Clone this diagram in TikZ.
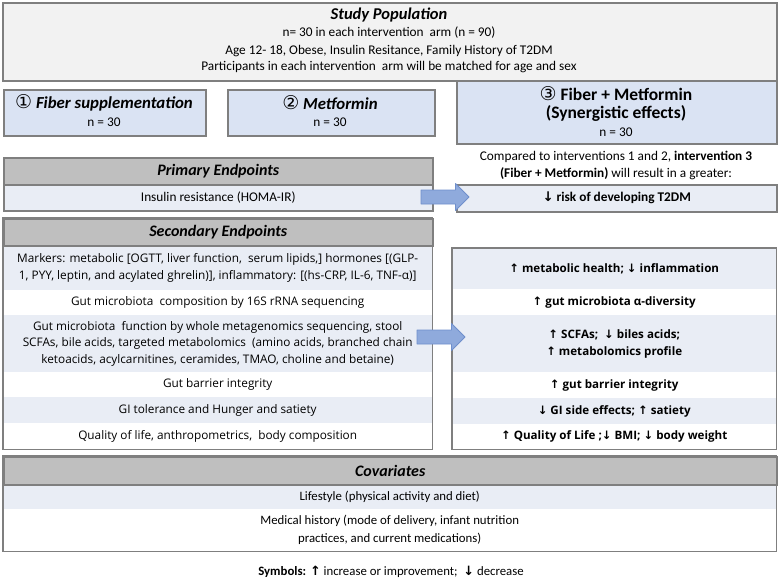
\documentclass[tikz,border=0pt]{standalone}
\usepackage{fontspec}
\setmainfont{Carlito}
\newfontfamily\segoe{Open Sans}
\newfontfamily\symfont{DejaVu Sans}
\definecolor{edgegray}{HTML}{7F7F7F}
\definecolor{popgray}{HTML}{F2F2F2}
\definecolor{headgray}{HTML}{BFBFBF}
\definecolor{armblue}{HTML}{DAE3F3}
\definecolor{rowblue}{HTML}{E9EDF5}
\definecolor{arrowblue}{HTML}{8FAADC}
\definecolor{arrowedge}{HTML}{6F8FCB}
\newcommand{\upar}{{\symfont ↑}}
\newcommand{\dnar}{{\symfont ↓}}
\newcommand{\circnum}[1]{{\symfont\mdseries\upshape\fontsize{19}{19}\selectfont #1}}

\begin{document}
\begin{tikzpicture}[x=1pt,y=-1pt,
    box/.style={draw=edgegray,line width=1.5pt,inner sep=0pt,anchor=north west,align=center},
    band/.style={inner sep=0pt,anchor=north west,align=center},
    frame/.style={draw=edgegray,line width=1.5pt},
    txt/.style={font=\fontsize{13.3}{18}\selectfont},
    covtxt/.style={font=\fontsize{12.8}{18}\selectfont},
    ttl/.style={font=\fontsize{16}{18}\selectfont\bfseries\itshape},
    rowtxt/.style={font=\segoe\fontsize{11.8}{16.8}\selectfont},
    outtxt/.style={font=\segoe\fontsize{11.6}{17}\selectfont\bfseries},
    blockarrow/.style={draw=arrowedge,fill=arrowblue,line width=0.8pt,line join=round}]
\useasboundingbox (0,0) rectangle (778,579);

% study population
\node[box,fill=popgray,minimum width=774pt,minimum height=78pt] (pop) at (2,2) {};
\node[ttl,font=\fontsize{16.5}{18}\selectfont\bfseries\itshape] (poptitle) at (389,15) {Study Population};
\node[txt] (popn) at (389,33) {n= 30 in each intervention\ \ arm (n = 90)};
\node[txt] (popage) at (389,51) {Age 12- 18, Obese, Insulin Resitance, Family History of T2DM};
\node[txt] (popmatch) at (389,67) {Participants in each intervention\ \ arm will be matched for age and sex};

% intervention arms
\node[box,fill=armblue,minimum width=202pt,minimum height=46pt] (arm1) at (3,89) {};
\node[font=\fontsize{16.8}{18}\selectfont\bfseries\itshape] (arm1t) at (104,103) {\circnum{①}\ Fiber supplementation};
\node[txt] (arm1n) at (104,122) {n = 30};
\node[box,fill=armblue,minimum width=207pt,minimum height=46pt] (arm2) at (227,89) {};
\node[font=\fontsize{16.8}{18}\selectfont\bfseries\itshape] (arm2t) at (330,103) {\circnum{②}\ Metformin};
\node[txt] (arm2n) at (330,122) {n = 30};
\node[box,fill=armblue,minimum width=320pt,minimum height=63pt] (arm3) at (456,80) {};
\node[font=\fontsize{17.5}{18}\selectfont\bfseries] (arm3t) at (616,94) {\circnum{③}\ Fiber + Metformin};
\node[font=\fontsize{17.5}{18}\selectfont\bfseries] (arm3s) at (616,113) {(Synergistic effects)};
\node[txt] (arm3n) at (616,132) {n = 30};
\node[txt] (cmp1) at (616,157) {Compared to interventions 1 and 2, \textbf{intervention 3}};
\node[txt] (cmp2) at (616,174) {\textbf{(Fiber + Metformin)} will result in a greater:};

% primary endpoints
\node[box,fill=headgray,minimum width=429pt,minimum height=27pt,ttl] (prihead) at (3,157) {Primary Endpoints};
\node[box,fill=rowblue,minimum width=429pt,minimum height=26pt,txt] (prirow) at (3,184) {Insulin resistance (HOMA-IR)};
\node[box,fill=rowblue,minimum width=320pt,minimum height=27pt,font=\fontsize{13.3}{18}\selectfont\bfseries] (risk) at (456,184) {\dnar\ risk of developing T2DM};
\coordinate (arr1) at (421,197);
\draw[blockarrow] (arr1) ++(0,-7) -- ++(34.5,0) -- ++(0,-6.5) -- ++(13.5,13.5) -- ++(-13.5,13.5) -- ++(0,-6.5) -- ++(-34.5,0) -- cycle;

% secondary endpoints
\node[band,fill=rowblue,minimum width=429pt,minimum height=45pt,rowtxt] (mk) at (3,245)
    {Markers: metabolic [OGTT, liver function,\ \ serum lipids,] hormones [(GLP-\\1, PYY, leptin, and acylated ghrelin)], inflammatory: [(hs-CRP, IL-6, TNF-α)]};
\node[band,fill=white,minimum width=429pt,minimum height=25pt,rowtxt] (gc) at (3,290)
    {Gut microbiota\ \ composition by 16S rRNA sequencing};
\node[band,fill=rowblue,minimum width=429pt,minimum height=57pt,rowtxt] (gf) at (3,315)
    {Gut microbiota\ \ function by whole metagenomics sequencing, stool\\SCFAs, bile acids, targeted metabolomics\ \ (amino acids, branched chain\\ketoacids, acylcarnitines, ceramides, TMAO, choline and betaine)};
\node[band,fill=white,minimum width=429pt,minimum height=25pt,rowtxt] (gb) at (3,372) {Gut barrier integrity};
\node[band,fill=rowblue,minimum width=429pt,minimum height=26pt,rowtxt] (gi) at (3,397) {GI tolerance and Hunger and satiety};
\node[band,fill=white,minimum width=429pt,minimum height=26pt,rowtxt] (ql) at (3,423) {Quality of life, anthropometrics,\ \ body composition};
\node[box,fill=headgray,minimum width=429pt,minimum height=27pt,ttl] (sechead) at (3,218) {Secondary Endpoints};
\draw[frame] (sechead.north west) rectangle (ql.south east);

% expected outcomes
\node[band,fill=rowblue,minimum width=324pt,minimum height=41pt,outtxt] (o1) at (452,248) {\upar\ metabolic health; \dnar\ inflammation};
\node[band,fill=white,minimum width=324pt,minimum height=26pt,outtxt] (o2) at (452,289) {\upar\ gut microbiota α-diversity};
\node[band,fill=rowblue,minimum width=324pt,minimum height=57pt,outtxt] (o3) at (452,315) {\upar\ SCFAs;\ \ \dnar\ biles acids;\\\upar\ metabolomics profile};
\node[band,fill=white,minimum width=324pt,minimum height=26pt,outtxt] (o4) at (452,372) {\upar\ gut barrier integrity};
\node[band,fill=rowblue,minimum width=324pt,minimum height=26pt,outtxt] (o5) at (452,398) {\dnar\ GI side effects; \upar\ satiety};
\node[band,fill=white,minimum width=324pt,minimum height=25pt,outtxt] (o6) at (452,424) {\upar\ Quality of Life ;\dnar\ BMI;\ \dnar\ body weight};
\draw[frame] (o1.north west) rectangle (o6.south east);
\coordinate (arr2) at (417,337);
\draw[blockarrow] (arr2) ++(0,-7) -- ++(34.5,0) -- ++(0,-6.5) -- ++(13.5,13.5) -- ++(-13.5,13.5) -- ++(0,-6.5) -- ++(-34.5,0) -- cycle;

% covariates
\node[band,fill=rowblue,minimum width=773pt,minimum height=25pt,covtxt] (life) at (3,484) {Lifestyle (physical activity and diet)};
\node[band,fill=white,minimum width=773pt,minimum height=42pt,covtxt] (med) at (3,509) {Medical history (mode of delivery, infant nutrition\\practices, and current medications)};
\node[box,fill=headgray,minimum width=773pt,minimum height=28pt,ttl] (covhead) at (3,456) {Covariates};
\draw[frame] (covhead.north west) rectangle (med.south east);

\node[covtxt] (symb) at (391,572) {\textbf{Symbols:} {\bfseries\upar} increase or improvement;\ \ {\bfseries\dnar} decrease};
\end{tikzpicture}
\end{document}
